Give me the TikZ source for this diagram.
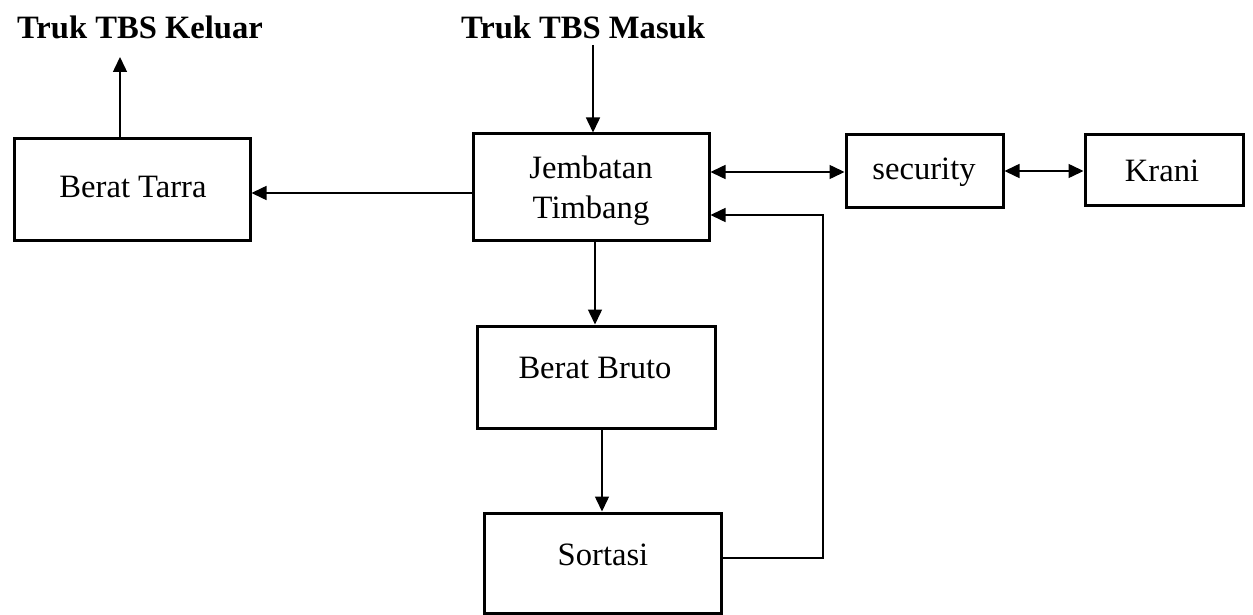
\documentclass[tikz,border=0pt]{standalone}
\usepackage{fontspec}
\setmainfont{Liberation Serif}
\usetikzlibrary{arrows.meta}
\begin{document}
\begin{tikzpicture}[x=0.5pt,y=-0.5pt,
  box/.style={draw, line width=1.5pt, inner sep=0pt},
  txt/.style={font=\fontsize{16.3pt}{20pt}\selectfont, inner sep=0pt, align=center},
  ttl/.style={font=\fontsize{16.3pt}{20pt}\selectfont\bfseries, inner sep=0pt},
  arr/.style={line width=0.75pt, -{Triangle[length=7.5pt,width=7pt]}},
  darr/.style={line width=0.75pt, {Triangle[length=7.5pt,width=7pt]}-{Triangle[length=7.5pt,width=7pt]}}]
\useasboundingbox (0,0) rectangle (1253,615);
\fill[white] (0,0) rectangle (1253,615);
% title labels
\node[ttl] (keluar) at (140,27) {Truk TBS Keluar};
\node[ttl] (masuk) at (583,27) {Truk TBS Masuk};
% boxes
\node[box, minimum width=118pt, minimum height=50.5pt] (tarra) at (132,189.5) {};
\node[txt] (tarraT) at (133,187) {Berat Tarra};
\node[box, minimum width=118pt, minimum height=53pt] (jt) at (591,187) {};
\node[txt] (jtT) at (591,191) {Jembatan\\Timbang};
\node[box, minimum width=78.5pt, minimum height=36pt] (sec) at (924.5,171) {};
\node[txt] (secT) at (924,172) {security};
\node[box, minimum width=79pt, minimum height=35.5pt] (krani) at (1164,170) {};
\node[txt] (kraniT) at (1162,171) {Krani};
\node[box, minimum width=119pt, minimum height=51pt] (bruto) at (596,377) {};
\node[txt] (brutoT) at (595,368) {Berat Bruto};
\node[box, minimum width=118.5pt, minimum height=50pt] (sort) at (602.5,563) {};
\node[txt] (sortT) at (603,555) {Sortasi};
% helper coordinates
\coordinate (masukEnd) at (593,45);
\coordinate (keluarEnd) at (120,57);
\coordinate (fbCorner1) at (823,558);
\coordinate (fbCorner2) at (823,215);
% connectors
\draw[arr] (masukEnd) -- (masukEnd |- jt.north);
\draw[arr] (tarra.north -| keluarEnd) -- (keluarEnd);
\draw[arr] (jt.west |- 0,193) -- (tarra.east |- 0,193);
\draw[darr] (jt.east |- 0,172) -- (sec.west |- 0,172);
\draw[darr] (sec.east |- 0,171) -- (krani.west |- 0,171);
\draw[arr] (jt.south -| 595,0) -- (bruto.north -| 595,0);
\draw[arr] (bruto.south -| 602,0) -- (sort.north -| 602,0);
\draw[arr] (sort.east |- fbCorner1) -- (fbCorner1) -- (fbCorner2) -- (jt.east |- fbCorner2);
\end{tikzpicture}
\end{document}
